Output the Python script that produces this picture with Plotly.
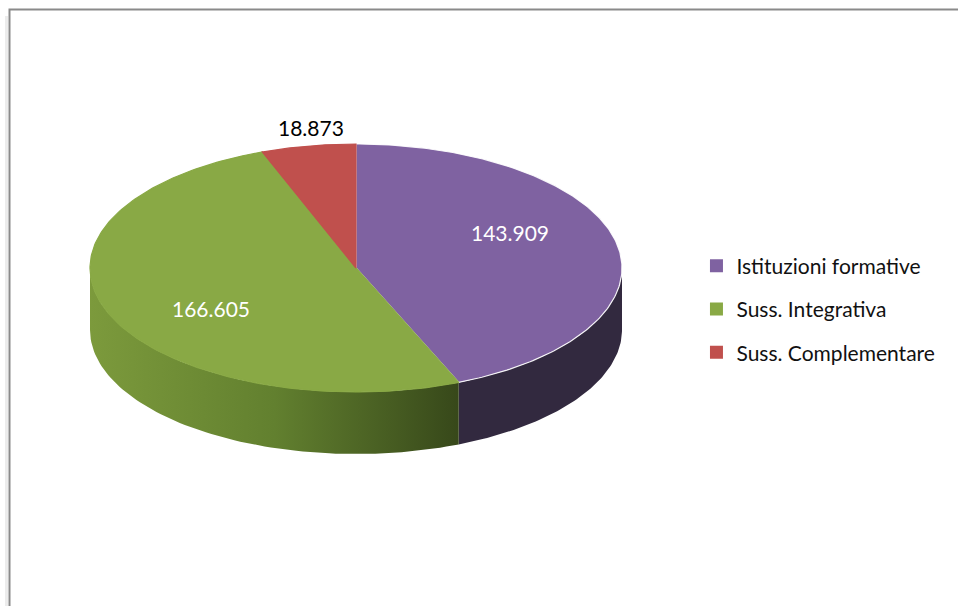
import numpy as np
import plotly.graph_objects as go

# ---- data ----
categories = ["Istituzioni formative", "Suss. Integrativa", "Suss. Complementare"]
values = [143909, 166605, 18873]
value_labels = ["143.909", "166.605", "18.873"]

# ---- styles ----
top_colors = ["#7F62A1", "#89A945", "#C0504D"]
wall_colors = ["#32293F", None, "#7E2B29"]
green_wall_scale = [[0, "#7C9A3C"], [0.5, "#62802F"], [1, "#37481A"]]
label_colors = ["white", "white", "black"]
label_pos = [(510, 232), (211, 308), (311, 127)]

W, H = 958, 606
cx, cy, rx, ry, depth = 356, 268, 266, 124, 62


def ex(t):
    return cx + rx * np.sin(np.radians(t))


def ey(t):
    return cy - ry * np.cos(np.radians(t))


fig = go.Figure()

total = float(sum(values))
bounds = []
start = 0.0
for v in values:
    end = start + 360.0 * v / total
    bounds.append((start, end))
    start = end

# side walls (front half: 90..270 deg clockwise from top)
for i, (a, b) in enumerate(bounds):
    lo, hi = max(a, 90), min(b, 270)
    if lo >= hi:
        continue
    t = np.linspace(lo, hi, 80)
    xs = list(ex(t)) + list(ex(t[::-1]))
    ys = list(ey(t)) + list(ey(t[::-1]) + depth)
    xs.append(xs[0]); ys.append(ys[0])
    kw = dict(fill="toself", mode="lines", line=dict(width=0), showlegend=False, hoverinfo="skip")
    if wall_colors[i] is None:
        kw["fillgradient"] = dict(type="horizontal", colorscale=green_wall_scale)
    else:
        kw["fillcolor"] = wall_colors[i]
    fig.add_trace(go.Scatter(x=xs, y=ys, **kw))

# top faces
for i, (a, b) in enumerate(bounds):
    t = np.linspace(a, b, 200)
    xs = [cx] + list(ex(t)) + [cx]
    ys = [cy] + list(ey(t)) + [cy]
    fig.add_trace(go.Scatter(
        x=xs, y=ys, fill="toself", mode="lines",
        fillcolor=top_colors[i],
        line=dict(width=1.2, color="rgba(255,255,255,0.9)" if i == 0 else top_colors[i]),
        showlegend=False, hoverinfo="skip"))

# legend entries
for i, c in enumerate(categories):
    fig.add_trace(go.Scatter(
        x=[None], y=[None], mode="markers", name=c, legendgroup=c,
        marker=dict(symbol="square", size=13, color=top_colors[i])))

for i, t in enumerate(value_labels):
    x, y = label_pos[i]
    fig.add_annotation(x=x, y=y, text=t, showarrow=False,
                       font=dict(family="Lato", size=21, color=label_colors[i]))

# chart border with shadow
fig.add_shape(type="line", x0=6.5, x1=6.5, y0=16, y1=H + 10,
              line=dict(color="#ececec", width=3), layer="below")
fig.add_shape(type="rect", x0=9.5, y0=9.5, x1=W + 20, y1=H + 20,
              line=dict(color="#8a8a8a", width=2), layer="below")

fig.update_layout(
    width=W, height=H,
    margin=dict(l=0, r=0, t=0, b=0),
    paper_bgcolor="white", plot_bgcolor="white",
    xaxis=dict(range=[0, W], visible=False, fixedrange=True),
    yaxis=dict(range=[H, 0], visible=False, fixedrange=True),
    showlegend=True,
    legend=dict(x=0.727, xanchor="left", y=0.49, yanchor="middle",
                font=dict(family="Lato", size=21, color="#111111"),
                tracegroupgap=13, itemwidth=30, bgcolor="rgba(0,0,0,0)"),
    font=dict(family="Lato"),
)

fig.write_html("out.html", config={"displayModeBar": False},
               post_script="document.body.style.margin='0px';document.body.style.overflow='hidden';")
